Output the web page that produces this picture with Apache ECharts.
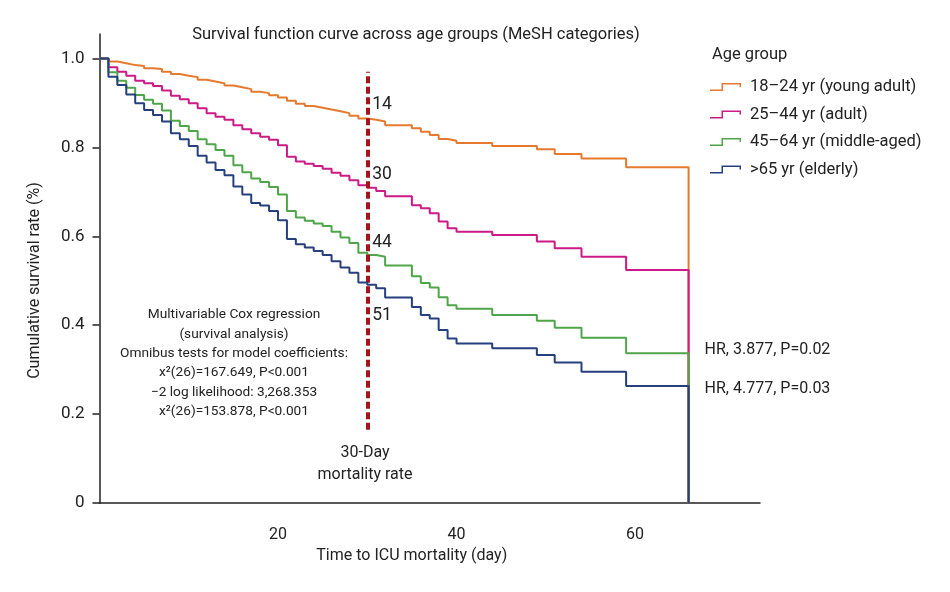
<!DOCTYPE html>
<html>
<head>
<meta charset="utf-8">
<script src="https://cdn.jsdelivr.net/npm/echarts@6/dist/echarts.min.js"></script>
<style>html,body{margin:0;padding:0;background:#fff;}#main{width:950px;height:592px;}</style>
</head>
<body>
<div id="main"></div>
<script>
// ---- data ----
const days = [0,1,2,3,4,5,6,7,8,9,10,11,12,13,14,15,16,17,18,19,20,21,22,23,24,25,26,27,28,29,30,31,32,35,36,37,38,39,40,44,49,51,54,59,66];
const groupNames = ['18\u201324 yr (young adult)', '25\u201344 yr (adult)', '45\u201364 yr (middle-aged)', '>65 yr (elderly)'];
const youngAdult = [1,0.993,0.989,0.985,0.983,0.978,0.976,0.970,0.965,0.961,0.958,0.952,0.948,0.944,0.939,0.935,0.931,0.925,0.922,0.917,0.912,0.905,0.898,0.893,0.889,0.885,0.881,0.877,0.871,0.865,0.862,0.858,0.850,0.843,0.835,0.828,0.819,0.815,0.810,0.803,0.796,0.785,0.775,0.755,0];
const adult = [1,0.980,0.970,0.961,0.950,0.944,0.938,0.928,0.916,0.908,0.899,0.888,0.877,0.869,0.862,0.850,0.841,0.832,0.824,0.817,0.805,0.779,0.768,0.763,0.758,0.752,0.743,0.736,0.726,0.715,0.709,0.702,0.690,0.670,0.663,0.652,0.633,0.618,0.610,0.603,0.588,0.573,0.554,0.524,0];
const middleAged = [1,0.969,0.950,0.934,0.918,0.907,0.898,0.883,0.860,0.848,0.837,0.818,0.807,0.794,0.781,0.760,0.744,0.730,0.722,0.711,0.694,0.657,0.642,0.635,0.629,0.623,0.610,0.597,0.585,0.563,0.558,0.554,0.534,0.510,0.495,0.485,0.463,0.445,0.437,0.423,0.410,0.394,0.372,0.337,0];
const elderly = [1,0.959,0.940,0.919,0.899,0.884,0.873,0.858,0.832,0.818,0.803,0.781,0.766,0.749,0.737,0.712,0.694,0.675,0.669,0.657,0.636,0.594,0.582,0.575,0.567,0.558,0.544,0.530,0.518,0.496,0.491,0.483,0.462,0.441,0.423,0.415,0.389,0.370,0.359,0.348,0.333,0.316,0.295,0.263,0];
const yTicks = [0, 0.2, 0.4, 0.6, 0.8, 1.0];
const xTicks = [20, 40, 60];
const cutoffDay = 30;
const cutoffRange = [0.165, 0.97];
const atRiskLabels = ['14', '30', '44', '51'];
const atRiskY = [0.896, 0.738, 0.586, 0.422];
const hrLabels = ['HR, 3.877, P=0.02', 'HR, 4.777, P=0.03'];
const hrY = [0.344, 0.256];
const hrDay = 66;
const coxText = ['Multivariable Cox regression', '(survival analysis)', 'Omnibus tests for model coefficients:', 'x\u00b2(26)=167.649, P<0.001', '\u22122 log likelihood: 3,268.353', 'x\u00b2(26)=153.878, P<0.001'];

const colors = ['#e57a2f', '#cc1a86', '#4fa64a', '#263f7d'];
const FONT = 'Roboto';
const series = [youngAdult, adult, middleAged, elderly];

const chart = echarts.init(document.getElementById('main'), null, {renderer: 'canvas'});
const stepIcon = 'path://M0,6.5 L11.5,6.5 L11.5,0 L31,0 L31,4 L29.5,4 L29.5,1.5 L13,1.5 L13,8 L0,8 Z';

const lineSeries = series.map((vals, i) => ({
  name: groupNames[i],
  type: 'line',
  step: 'end',
  symbol: 'none',
  showSymbol: false,
  color: colors[i],
  lineStyle: {width: 2, color: colors[i]},
  data: days.map((d, k) => [d, vals[k]]),
  z: 2 + i,
  silent: true
}));

lineSeries[0].markLine = {
  silent: true,
  symbol: 'none',
  label: {show: false},
  lineStyle: {color: '#a3141c', width: 4, type: [7, 3.5]},
  data: [[{coord: [cutoffDay, cutoffRange[0]]}, {coord: [cutoffDay, cutoffRange[1]]}]]
};

const option = {
  animation: false,
  backgroundColor: '#fff',
  textStyle: {fontFamily: FONT},
  title: [
    {text: 'Survival function curve across age groups (MeSH categories)', left: 411, top: 21, textAlign: 'center',
     textStyle: {fontFamily: FONT, fontSize: 16.5, fontWeight: 'normal', color: '#222'}},
    {text: 'Age group', left: 707, top: 41,
     textStyle: {fontFamily: FONT, fontSize: 16.5, fontWeight: 'normal', color: '#222'}}
  ],
  legend: {
    data: groupNames,
    orient: 'vertical',
    left: 705, top: 73,
    icon: stepIcon,
    itemWidth: 31, itemHeight: 8,
    itemGap: 9.5,
    itemStyle: {borderWidth: 0},
    textStyle: {fontFamily: FONT, fontSize: 16.5, color: '#222', lineHeight: 18, padding: [0, 0, 0, 4]}
  },
  grid: {left: 99.5, right: 190, top: 34, bottom: 89},
  xAxis: {
    type: 'value', min: 0, max: 74, interval: 20,
    name: 'Time to ICU mortality (day)', nameLocation: 'middle', nameGap: 40,
    nameTextStyle: {fontFamily: FONT, fontSize: 16, color: '#222', padding: [0, 36, 0, 0]},
    axisLine: {lineStyle: {color: '#222', width: 1.5}},
    axisTick: {show: false},
    axisLabel: {customValues: xTicks, margin: 24, fontFamily: FONT, fontSize: 16, color: '#222'},
    splitLine: {show: false}
  },
  yAxis: {
    type: 'value', min: 0, max: 1.055, interval: 0.2,
    name: 'Cumulative survival rate (%)', nameLocation: 'middle', nameGap: 57,
    nameTextStyle: {fontFamily: FONT, fontSize: 16, color: '#222', padding: [0, 24, 0, 0]},
    axisLine: {show: true, lineStyle: {color: '#222', width: 1.5}},
    axisTick: {show: true, customValues: yTicks, length: 7, lineStyle: {color: '#222', width: 1.5}},
    axisLabel: {customValues: yTicks, margin: 15, fontFamily: FONT, fontSize: 17, color: '#222',
      formatter: v => v === 0 ? '0' : v.toFixed(1)},
    splitLine: {show: false}
  },
  series: lineSeries.concat([
    {
      type: 'scatter', name: 'atRisk', symbolSize: 0, silent: true, z: 10,
      itemStyle: {opacity: 1},
      data: atRiskLabels.map((t, i) => ({value: [cutoffDay, atRiskY[i]], label: {formatter: t}})),
      label: {show: true, position: 'right', distance: 5, fontFamily: FONT, fontSize: 17.5, color: '#222'}
    },
    {
      type: 'scatter', name: 'hr', symbolSize: 0, silent: true, z: 10,
      itemStyle: {opacity: 1},
      data: hrLabels.map((t, i) => ({value: [hrDay, hrY[i]], label: {formatter: t}})),
      label: {show: true, position: 'right', distance: 16, fontFamily: FONT, fontSize: 16, color: '#222'}
    }
  ]),
  graphic: [
    {type: 'text', x: 234, y: 305, z: 20, silent: true,
     style: {text: coxText.join('\n'), textAlign: 'center', fontFamily: FONT, fontSize: 13.7, lineHeight: 19.4, fill: '#222'}},
    {type: 'text', x: 365, y: 442, z: 20, silent: true,
     style: {text: '30-Day\nmortality rate', textAlign: 'center', fontFamily: FONT, fontSize: 16, lineHeight: 22, fill: '#222'}}
  ]
};
chart.setOption(option);
</script>
</body>
</html>
